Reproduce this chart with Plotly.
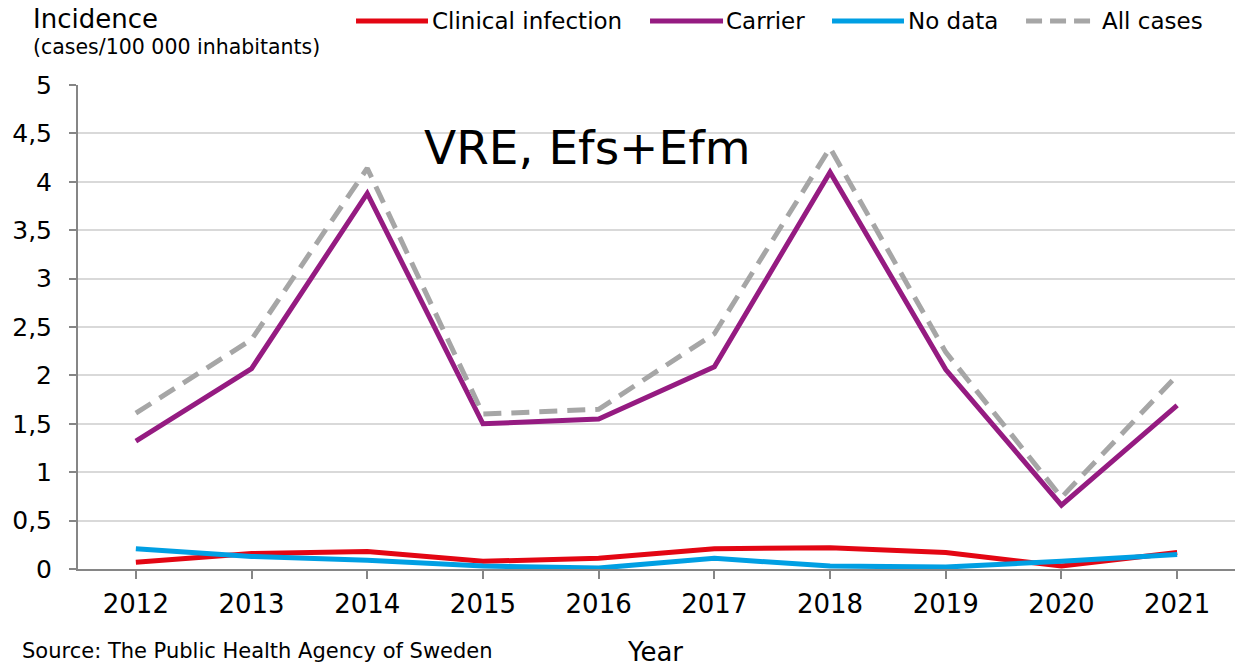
import plotly.graph_objects as go

years = ["2012", "2013", "2014", "2015", "2016", "2017", "2018", "2019", "2020", "2021"]
clinical = [0.07, 0.16, 0.18, 0.08, 0.11, 0.21, 0.22, 0.17, 0.03, 0.17]
carrier = [1.32, 2.07, 3.88, 1.50, 1.55, 2.09, 4.10, 2.06, 0.66, 1.69]
no_data = [0.21, 0.13, 0.09, 0.03, 0.01, 0.11, 0.03, 0.02, 0.08, 0.15]
all_cases = [1.61, 2.37, 4.14, 1.60, 1.65, 2.43, 4.35, 2.24, 0.74, 2.00]
y_ticks = [0, 0.5, 1, 1.5, 2, 2.5, 3, 3.5, 4, 4.5, 5]

series_names = ["Clinical infection", "Carrier", "No data", "All cases"]
series_colors = ["#e30613", "#951b81", "#009fe3", "#a6a6a6"]
series_dash = ["solid", "solid", "solid", "18px,10px"]
series_values = [clinical, carrier, no_data, all_cases]

FONT = "DejaVu Sans"

fig = go.Figure()
for name, vals, col, dash in zip(series_names, series_values, series_colors, series_dash):
    fig.add_trace(go.Scatter(x=years, y=vals, mode="lines", name=name,
                             line=dict(color=col, width=5, dash=dash), showlegend=False))

fig.update_layout(
    width=1236, height=667,
    margin=dict(l=78, r=1, t=85, b=98, autoexpand=False),
    plot_bgcolor="white", paper_bgcolor="white",
    separators=", ",
    font=dict(family=FONT, color="black"),
    showlegend=False,
    xaxis=dict(type="category", showline=True, linecolor="#868686", linewidth=2,
               ticks="outside", ticklen=8, tickcolor="#868686", tickwidth=2,
               tickfont=dict(size=26, family=FONT), showgrid=False,
               range=[-0.5, 9.5], ticklabelstandoff=3),
    yaxis=dict(range=[0, 5], tickvals=y_ticks, showline=True, linecolor="#868686",
               linewidth=2, ticks="outside", ticklen=7, tickcolor="#868686",
               tickwidth=2, showgrid=True, gridcolor="#d9d9d9", gridwidth=2,
               tickfont=dict(size=25, family=FONT), zeroline=False,
               ticklabelstandoff=12),
)

# manual legend (paper coordinates)
leg_y = 1.132
leg_x0 = [0.2403, 0.4944, 0.6517, 0.8194]
leg_x1 = [0.3025, 0.5575, 0.7139, 0.8773]
leg_tx = [0.3045, 0.5580, 0.7160, 0.8835]
for name, col, dash, x0, x1, tx in zip(series_names, series_colors, series_dash, leg_x0, leg_x1, leg_tx):
    fig.add_shape(type="line", xref="paper", yref="paper", x0=x0, x1=x1, y0=leg_y, y1=leg_y,
                  line=dict(color=col, width=5, dash=("solid" if dash == "solid" else "16px,8px")))
    fig.add_annotation(text=name, xref="paper", yref="paper", x=tx, y=leg_y,
                       xanchor="left", yanchor="middle", showarrow=False,
                       font=dict(size=23, family=FONT))

fig.add_annotation(text="VRE, Efs+Efm", xref="paper", yref="paper", x=0.297, y=0.87,
                   xanchor="left", yanchor="middle", showarrow=False,
                   font=dict(size=47, family=FONT, color="black"))
fig.add_annotation(text="Incidence", xref="paper", yref="paper", x=-0.041, y=1.136,
                   xanchor="left", yanchor="middle", showarrow=False,
                   font=dict(size=26, family=FONT))
fig.add_annotation(text="(cases/100 000 inhabitants)", xref="paper", yref="paper", x=-0.041, y=1.0785,
                   xanchor="left", yanchor="middle", showarrow=False,
                   font=dict(size=20.5, family=FONT))
fig.add_annotation(text="Source: The Public Health Agency of Sweden", xref="paper", yref="paper",
                   x=-0.050, y=-0.169, xanchor="left", yanchor="middle", showarrow=False,
                   font=dict(size=21, family=FONT))
fig.add_annotation(text="Year", xref="paper", yref="paper", x=0.473, y=-0.171,
                   xanchor="left", yanchor="middle", showarrow=False,
                   font=dict(size=26, family=FONT))

fig.write_html("out.html", config={"displayModeBar": False},
               post_script="document.body.style.margin='0';document.body.style.overflow='hidden';")
